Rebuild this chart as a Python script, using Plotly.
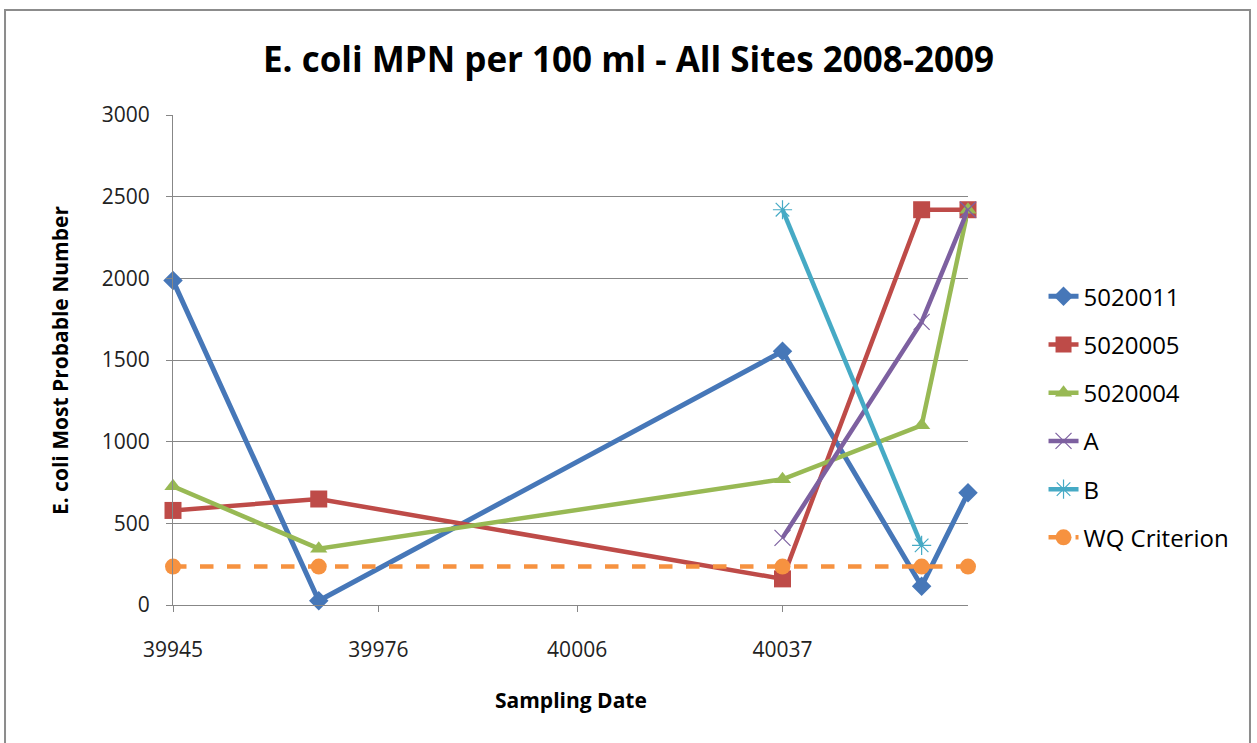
import plotly.graph_objects as go

# Sampling dates (Excel serial day numbers)
dates = [39945, 39967, 40037, 40058, 40065]
dates_ab = [40037, 40058, 40065]
dates_b = [40037, 40058]

site_5020011 = [1986, 26, 1553, 115, 687]
site_5020005 = [579, 649, 160, 2420, 2420]
site_5020004 = [727, 345, 770, 1100, 2420]
site_a = [411, 1733, 2420]
site_b = [2420, 365]
wq_criterion = [235, 235, 235, 235, 235]

x_ticks = [39945, 39976, 40006, 40037]
y_ticks = [0, 500, 1000, 1500, 2000, 2500, 3000]

FONT = "Open Sans"
GRID = "#878787"

fig = go.Figure()

def add_series(name, x, y, color, symbol, size, width=4.5, dash="solid", open_marker=False):
    if open_marker:
        marker = dict(symbol=symbol, size=size, color=color,
                      line=dict(color=color, width=1.2))
    else:
        marker = dict(symbol=symbol, size=size, color=color,
                      line=dict(color=color, width=0))
    fig.add_trace(go.Scatter(
        x=x, y=y, name=name, mode="lines+markers",
        line=dict(color=color, width=width, dash=dash),
        marker=marker, legendgroup=name, cliponaxis=False,
    ))

add_series("5020011", dates, site_5020011, "#4677B8", "diamond", 15, width=5)
add_series("5020005", dates, site_5020005, "#BE4B48", "square", 17)
add_series("5020004", dates, site_5020004, "#98B954", "triangle-up", 15)
add_series("A", dates_ab, site_a, "#7D60A0", "x-thin-open", 16, open_marker=True)
add_series("B", dates_b, site_b, "#46AAC5", "asterisk-open", 16, open_marker=True)
add_series("WQ Criterion", dates, wq_criterion, "#F69240", "circle", 16, dash="dash")

# chart border
fig.add_shape(type="rect", xref="paper", yref="paper",
              x0=-0.2113, x1=1.3547, y0=-0.30, y1=1.2143,
              line=dict(color="#8C8C8C", width=2), fillcolor="rgba(0,0,0,0)",
              layer="below")

fig.add_annotation(text="<b>E. coli Most Probable Number</b>", xref="paper", yref="paper",
                   x=-0.142, y=0.5, xanchor="center", yanchor="middle",
                   textangle=-90, showarrow=False,
                   font=dict(family=FONT, size=21, color="#000000"))
fig.add_annotation(text="<b>Sampling Date</b>", xref="paper", yref="paper",
                   x=0.5, y=-0.194, xanchor="center", yanchor="middle", showarrow=False,
                   font=dict(family=FONT, size=21, color="#000000"))

fig.update_layout(
    width=1257, height=743,
    margin=dict(l=173, r=289, t=115, b=138),
    paper_bgcolor="white", plot_bgcolor="white",
    font=dict(family=FONT, color="#000000"),
    title=dict(text="<b>E. coli MPN per 100 ml - All Sites 2008-2009</b>",
               x=0.5, xref="container", xanchor="center",
               y=0.919, yref="container", yanchor="middle",
               font=dict(family=FONT, size=35, color="#000000")),
    showlegend=True,
    legend=dict(x=1.095, xanchor="left", y=0.675, yanchor="top",
                font=dict(family=FONT, size=24, color="#000000"),
                traceorder="grouped", tracegroupgap=14,
                bgcolor="rgba(0,0,0,0)"),
    xaxis=dict(range=[39945, 40065], tickvals=x_ticks, ticktext=[str(v) for v in x_ticks],
               showgrid=False, zeroline=False, showline=True, linecolor=GRID, linewidth=1,
               ticks="outside", ticklen=6, tickcolor=GRID,
               ticklabelstandoff=20,
               tickfont=dict(family=FONT, size=21, color="#222222")),
    yaxis=dict(range=[0, 3000], tickvals=y_ticks,
               showgrid=True, gridcolor=GRID, gridwidth=1, zeroline=False,
               showline=True, linecolor=GRID, linewidth=1,
               ticks="outside", ticklen=6, tickcolor=GRID,
               ticklabelstandoff=12,
               tickfont=dict(family=FONT, size=21, color="#222222")),
)

fig.write_html("out.html")
